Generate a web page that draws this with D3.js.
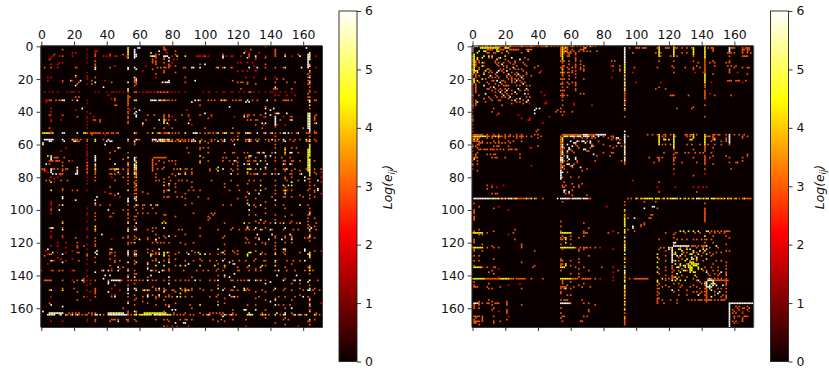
<!DOCTYPE html>
<html>
<head>
<meta charset="utf-8">
<script src="https://cdn.jsdelivr.net/npm/d3@7"></script>
<style>
  html, body { margin: 0; padding: 0; background: #fff; }
  svg text { font-family: "DejaVu Sans", sans-serif; fill: #111; }
</style>
</head>
<body>
<div id="chart"></div>
<script>
const matrixSize = 172;
const matrixTicks = [0, 20, 40, 60, 80, 100, 120, 140, 160];
const colorTicks = [0, 1, 2, 3, 4, 5, 6];

// every entry is [node, value, [other nodes]], the matrices are symmetric
const leftHubs = [
  [6, 6, [57, 75, 111, 149, 158, 164]],
  [6, 4.5, [53, 67, 83, 88]],
  [6, 3, [13, 33, 70, 100, 127, 137, 143]],
  [6, 2, [38, 42, 46, 80, 95, 97, 102, 113, 117, 122, 131, 168]],
  [5, 3, [33, 53, 111, 127, 143, 149]],
  [13, 6, [33, 53, 57, 93, 112, 127, 132]],
  [13, 4.5, [108, 149]],
  [13, 3, [71, 78, 88, 137, 143]],
  [13, 2, [22, 117, 163, 168]],
  [28, 1.4, [2, 5, 7, 10, 16, 18, 19, 20, 23, 33, 35, 40, 43, 44, 46, 48, 50, 60, 62, 64, 65, 66, 67, 69, 72, 74, 76, 78, 80, 82, 84, 88, 99, 102, 103, 107, 111, 112, 116, 117, 121, 124, 130, 133, 137, 140, 141, 143, 146, 149, 153, 167, 168]],
  [28, 3, [53, 57, 71, 73, 75, 77, 127, 128, 164]],
  [33, 6, [14, 22, 57, 67, 68, 69, 70, 72, 75, 94, 96, 126, 138, 164]],
  [33, 4.5, [58, 73, 110, 112]],
  [33, 3, [3, 4, 6, 9, 11, 12, 19, 45, 53, 74, 76, 77, 78, 80, 82, 97, 102, 104, 106, 111, 113, 117, 119, 121, 122, 129, 132, 143, 148, 149, 150, 151, 153, 167, 168]],
  [53, 6, [14, 22, 57, 78, 93, 94, 95, 108, 112, 126, 127, 132, 137, 141, 148, 149, 151, 157, 164]],
  [53, 4.5, [1, 2, 3, 4, 5, 7, 26, 27, 68, 72, 88, 113, 125]],
  [53, 3, [6, 28, 30, 31, 32, 34, 35, 36, 38, 40, 41, 43, 44, 46, 47, 65, 71, 73, 75, 76, 77, 80, 82, 84, 97, 100, 102, 103, 105, 107, 111, 116, 117, 120, 121, 128, 136, 140, 143, 146, 153, 156, 162, 167, 168]],
  [58, 6, [5, 6, 14, 20, 21, 40, 42, 43, 57, 71, 75, 92, 94, 108, 112, 127, 149, 164]],
  [58, 4.5, [33, 73, 74, 78, 80, 85, 97, 132]],
  [58, 3, [22, 23, 28, 53, 68, 70, 72, 76, 77, 79, 82, 84, 87, 88, 90, 93, 100, 104, 111, 117, 125, 128, 139, 143, 148, 154, 162, 168]],
  [57, 6, [2, 3, 4, 5, 7, 41, 68, 69, 70, 72, 73, 74, 78, 93, 112, 127, 141, 148, 162]],
  [57, 4.5, [19, 33, 75, 77, 120, 164]],
  [57, 3, [20, 21, 22, 24, 38, 59, 60, 76, 80, 83, 84, 86, 88, 90, 92, 98, 104, 106, 110, 116, 118, 125, 126, 128, 131, 133, 137, 139, 143, 145, 152, 155, 158, 167]],
  [164, 6, [4, 5, 8, 12, 19, 22, 33, 34, 41, 42, 43, 44, 45, 46, 47, 48, 49, 50, 51, 52, 64, 69, 70, 72, 73, 75, 77, 102, 112, 116, 128, 143, 149, 155, 158]],
  [164, 4.5, [6, 7, 15, 36, 60, 61, 62, 63, 65, 66, 67, 71, 74, 76, 78, 79, 126, 127, 129, 137, 148, 162, 167, 57, 135]],
  [164, 3, [16, 18, 21, 23, 25, 27, 53, 55, 81, 83, 85, 87, 91, 93, 99, 101, 103, 110, 113, 115, 117, 119, 134, 136, 139, 146, 154, 157, 159, 161, 168, 170, 11, 31, 38]],
  [163, 6, [5, 6, 7, 8, 9, 10, 11, 12, 13, 42, 44, 46, 48, 50, 149]],
  [163, 4.5, [41, 43, 45, 47, 49, 63, 64, 65, 66, 67, 68, 69, 70, 71, 72, 73, 74, 75, 76, 127, 144]],
  [163, 3, [17, 19, 21, 23, 29, 31, 33, 53, 58, 81, 88, 97, 103, 105, 107, 109, 111, 117, 135, 153, 168]]
];

const leftScatter = [
  [1, 6, [59, 162]], [2, 3, [75, 76, 143, 128]], [3, 2, [33, 34, 76, 125]], [4, 6, [124]], [4, 2, [19, 21, 33, 77, 127, 133]],
  [5, 3, [8, 42, 50, 70, 72, 111, 127, 143, 157]], [6, 6, [68, 69, 76, 77, 131]], [6, 2, [7, 11, 19, 40, 45, 52, 96, 99, 102, 116, 137, 153]],
  [8, 2, [75, 81, 83, 131]], [10, 2, [11, 13, 68, 80, 120, 122, 126, 129]], [12, 2, [45, 64, 79, 130]],
  [13, 6, [92, 97, 159]], [13, 3, [2, 21, 42, 73, 75, 76, 87, 107, 111, 116, 148]],
  [15, 2, [62, 120, 123, 126, 131]], [18, 4.5, [21]], [19, 2, [21, 70, 125, 130, 137, 143]],
  [20, 3, [137, 144, 148]], [21, 6, [24, 94]], [22, 6, [74, 76, 77, 143]], [22, 3, [23, 43, 88, 122, 123, 150, 155]],
  [25, 6, [38, 143]], [26, 3, [122, 142, 144, 143, 153]], [30, 2, [41, 143, 145, 150, 155]], [31, 3, [21, 23, 54]],
  [34, 6, [92, 125, 127]], [36, 3, [45, 46]], [38, 6, [142, 137]], [39, 2, [21, 54, 89]], [41, 6, [143, 144, 145, 100, 150]],
  [42, 3, [69, 75, 78, 86, 90, 104, 124, 126, 127, 130, 134, 140, 168]], [43, 2, [32, 80, 90, 104, 118, 136, 143, 148, 152]],
  [45, 3, [32, 64, 75, 76, 91, 126, 128, 132, 143, 146, 152]], [47, 6, [62, 77, 137, 135, 143, 168]], [48, 2, [78, 92, 136, 144, 149]],
  [50, 3, [69, 75, 80, 100, 117, 135, 160]], [60, 6, [1, 39, 118, 143]], [62, 3, [48, 89, 97, 99, 143, 149, 153, 156]],
  [65, 6, [133, 136, 143, 152]], [65, 3, [42, 90, 112, 118, 124, 132, 135, 141, 157]], [67, 4.5, [4, 97, 127, 128]],
  [68, 3, [8, 9, 10, 14, 69, 70, 71, 72, 73, 74, 75, 76, 99, 111, 113, 120, 125, 127, 137, 143, 147, 152]],
  [70, 3, [5, 7, 9, 10, 11, 17, 72, 78, 80, 97, 111, 115, 119, 127, 130, 134, 137, 143, 148, 154, 158]],
  [72, 6, [3, 45, 127, 132, 138, 148, 152]], [75, 4.5, [45, 46, 47, 127, 128, 134, 150]],
  [75, 3, [0, 1, 7, 8, 10, 15, 16, 22, 43, 44, 71, 74, 81, 83, 88, 89, 92, 103, 107, 111, 116, 120, 126, 131, 137, 143, 148, 155, 162, 167, 171]],
  [78, 6, [7, 9, 21, 22, 84, 88, 116, 132, 141, 145, 159]], [78, 3, [11, 12, 43, 45, 80, 85, 120, 128, 130, 136, 143, 152, 158, 168]],
  [82, 3, [3, 5, 12, 16, 45, 70, 72, 79, 84, 86, 89, 104, 116, 127, 130, 134, 143, 150, 157]], [85, 4.5, [75, 148, 151, 153, 134]],
  [88, 3, [19, 77, 90, 93, 97, 115, 121, 131, 143, 148, 150, 167]], [90, 6, [47, 127, 133]], [92, 3, [77, 78, 83, 86, 96, 125, 141, 148, 160]],
  [97, 4.5, [71, 134, 127, 158]], [97, 3, [11, 36, 42, 59, 62, 63, 111, 116, 130, 143, 148]], [100, 6, [11, 127]], [102, 3, [44, 59, 62, 65, 70, 93, 104, 106]],
  [103, 3, [75, 76, 105, 127, 131, 143, 153]], [108, 4.5, [74, 76, 124, 148, 158]], [108, 3, [127, 133, 136, 140, 146, 152, 156, 168]],
  [111, 6, [7, 75, 126, 131, 149, 165]], [112, 3, [84, 86, 108, 116, 121, 125, 127, 130, 135, 141, 148, 154, 157, 168]], [115, 6, [37, 132, 141, 152]],
  [117, 3, [21, 65, 72, 76, 111, 125, 133, 143, 149, 153, 161, 167]], [118, 6, [70, 133, 139, 147, 153]], [120, 3, [22, 55, 71, 73, 85, 93, 125, 127, 135, 137, 143]],
  [124, 6, [43, 72, 148, 161]], [126, 4.5, [7, 96, 127, 128, 77, 75]], [126, 3, [22, 23, 42, 43, 65, 70, 72, 78, 84, 89, 94, 110, 118, 135, 143, 148, 158]],
  [131, 3, [7, 23, 45, 48, 68, 70, 75, 78, 93, 98, 107, 117, 121, 125, 130, 136, 143, 150, 154, 161]], [134, 4.5, [70, 88, 106, 112, 127, 135, 143]],
  [137, 6, [41, 67, 74, 145, 150]], [137, 3, [0, 7, 11, 20, 37, 43, 70, 75, 78, 87, 95, 99, 102, 107, 111, 121, 127, 131, 134, 143, 150, 155, 161, 166]],
  [140, 6, [39, 42, 67, 112, 144, 156]], [143, 6, [43, 44, 45, 46, 47, 48, 94, 108, 127, 131, 148, 158, 155]], [143, 3, [3, 4, 22, 41, 49, 55, 60, 85, 90, 106, 116, 122, 124, 132, 137, 154, 169]],
  [149, 4.5, [63, 65, 90, 124, 135, 88]], [149, 3, [64, 66, 70, 72, 75, 76, 80, 81, 86, 89, 92, 99, 104, 116, 120, 125, 127, 135, 142, 148, 153, 160, 166, 170]],
  [153, 6, [45, 65, 80, 83, 133, 160]], [153, 3, [43, 70, 72, 76, 78, 80, 88, 92, 107, 116, 120, 133, 145, 155]], [158, 3, [76, 78, 91, 131, 145, 148, 152]],
  [161, 6, [80, 82, 125, 131]], [167, 3, [43, 44, 45, 47, 52, 70, 75, 77, 85, 89, 92, 105, 110, 117, 125, 148, 151, 167]], [169, 6, [88, 82, 87]], [171, 2, [77, 80, 83, 90, 125, 157]]
];

const rightHubs = [
  [0, 6, [1, 2, 3, 6, 9, 14, 17, 20, 23, 30, 36, 45, 55, 61, 72]],
  [0, 3, [4, 5, 7, 8, 10, 11, 12, 13, 15, 16, 18, 19, 21, 22, 24, 25, 26, 27, 28, 29, 31, 32, 33, 34, 35, 37, 38, 40, 42, 43, 44, 46, 48, 50, 52, 54, 56, 57, 58, 60, 62, 64, 66, 68, 70, 73, 75]],
  [1, 4.5, [5, 6, 7, 8, 9, 10, 11, 12, 13, 14, 15, 16, 20, 21, 22, 55, 56, 57, 68, 69, 123, 142]],
  [2, 3, [9, 10, 11, 12, 17, 18, 19, 23, 24, 25, 26, 27, 28, 33, 34, 35, 36, 54, 58, 66, 67, 114, 123, 135, 142, 157, 166, 168, 169]],
  [3, 4.5, [4, 7, 8, 15, 16, 21, 34, 55, 56, 57, 114, 142]],
  [4, 3, [9, 10, 13, 14, 18, 22, 30, 55, 56, 58, 60, 114, 123, 135, 142, 156, 165, 168]],
  [6, 4.5, [7, 10, 12, 20]], [8, 4.5, [0, 15]], [11, 4.5, [0, 1]], [15, 4.5, [0, 1, 2]],
  [54, 6, [68, 69, 70, 76, 77, 78, 79, 80, 81, 93]],
  [54, 3, [0, 1, 2, 3, 4, 5, 6, 9, 13, 16, 20, 23, 27, 30, 38, 40, 55, 56, 57, 58, 59, 60, 61, 62, 63, 64, 65, 66, 67, 71, 72, 73, 74, 75, 107, 110, 114, 117, 121, 123, 131, 133, 135, 142, 148, 151, 157, 166]],
  [55, 4.5, [0, 1, 2, 3, 4, 5, 6, 7, 8, 14, 16, 56, 57, 58, 64, 68, 71, 114, 123, 135, 142]],
  [55, 6, [60, 61, 62, 65, 66, 69, 70, 74, 77, 93, 157]],
  [55, 3, [9, 10, 12, 13, 15, 17, 18, 20, 22, 23, 25, 27, 29, 30, 31, 33, 36, 42, 59, 63, 73, 80, 85, 95, 116, 118, 124, 131, 133, 143, 144, 145]],
  [56, 3, [0, 1, 2, 3, 4, 9, 12, 16, 20, 27, 30, 40, 62, 67, 70, 73, 75, 83, 86, 88, 114, 117, 123, 135, 142, 148, 157, 165]],
  [58, 6, [60, 64, 67, 68, 72, 93, 123]], [58, 3, [1, 3, 6, 13, 16, 22, 25, 30, 65, 70, 77, 142, 146, 152]],
  [93, 6, [1, 2, 3, 4, 5, 6, 7, 8, 9, 55, 56, 57, 58, 59, 61, 62, 65, 66, 69, 70, 10, 13, 16, 18, 20, 22, 24, 26, 33, 36, 52, 54, 64, 68, 117, 123, 127, 138, 143, 147, 156, 137]],
  [93, 4.5, [11, 12, 14, 15, 23, 27, 38, 63, 100, 103, 105, 106, 107, 108, 109, 110, 112, 113, 114, 119, 121, 122, 124, 125, 130, 132, 135, 139, 141, 144, 146, 148, 150, 152, 154, 158, 161, 166, 168]],
  [93, 3, [17, 19, 21, 25, 28, 29, 30, 31, 32, 34, 35, 39, 43, 60, 67, 71, 72, 95, 97, 101, 104, 116, 120, 129, 134, 140, 142, 149, 151, 153, 160, 163, 165, 167, 169, 170]],
  [142, 4.5, [0, 1, 2, 3, 4, 5, 6, 7, 17, 18, 19, 20, 21, 22, 54, 55, 56, 57, 58, 59, 60, 116, 125, 135, 145]],
  [142, 3, [8, 9, 10, 11, 12, 13, 14, 15, 16, 23, 24, 25, 27, 28, 29, 30, 31, 32, 36, 43, 61, 62, 63, 64, 67, 68, 69, 70, 71, 72, 93, 96, 99, 100, 101, 102, 103, 104, 105, 106, 107, 118, 120, 122, 144, 146, 148, 150, 152, 155]],
  [123, 4.5, [0, 1, 2, 3, 4, 5, 6, 54, 55, 56, 57, 58, 59, 60, 61, 62]],
  [123, 3, [9, 13, 16, 30, 63, 66, 68, 69, 70, 72, 115, 117, 121, 127, 131, 137, 141, 145, 150]],
  [114, 4.5, [0, 1, 2, 3, 4, 5, 6, 54, 55, 56, 57, 58, 59, 60]],
  [114, 3, [9, 25, 68, 69, 70, 83, 118, 124, 130, 136, 139, 145, 148, 151, 154]],
  [135, 4.5, [1, 2, 3, 4, 5, 54, 55, 56, 126, 130, 134, 138]],
  [135, 3, [9, 14, 37, 63, 68, 79, 118, 122, 142, 146, 150]],
  [157, 6, [1, 2, 3, 54, 55, 56, 57, 58, 59, 60, 158, 159, 160, 161, 162, 163, 164, 165, 166, 167, 168, 169, 170, 171, 157]],
  [157, 3, [4, 9, 14, 15, 16, 68, 71, 93, 113, 117, 125]],
  [147, 6, [143, 144, 145, 146]],
  [147, 3, [1, 2, 3, 9, 17, 54, 55, 56, 57, 62, 67, 72, 116, 120, 127, 133]],
  [155, 3, [54, 56, 57, 58, 67, 113, 116, 121, 125, 132, 134, 136, 138, 140, 143, 144, 145, 146, 148, 150, 152, 153, 154]],
  [165, 3, [1, 2, 3, 4, 13, 55, 68, 70, 93, 160, 163]], [168, 3, [1, 2, 3, 4, 6, 13, 17, 55, 66, 67, 93, 159, 165]]
];

const rightScatter = [
  // block 0-40
  [7, 6, [17, 24]], [7, 3, [12, 16, 32, 10]], [8, 6, [29]], [8, 3, [20, 34]], [9, 3, [14, 22, 26]], [10, 3, [14, 16, 19, 23, 26, 31]], [11, 6, [18]], [11, 3, [15, 25, 32]],
  [12, 3, [16, 19, 21, 27, 33, 40]], [13, 6, [25]], [13, 3, [21, 38]], [14, 3, [17, 19, 23, 26, 28, 30]], [15, 6, [16, 21]], [15, 3, [18, 31]], [16, 3, [19, 24, 27, 33, 41]],
  [17, 6, [22, 28]], [17, 3, [26, 33]], [18, 3, [21, 23, 27, 29, 31, 36]], [19, 6, [30]], [19, 3, [21, 24]], [20, 3, [22, 24, 26, 28, 31]], [21, 6, [27]], [21, 3, [24, 29]],
  [22, 3, [24, 26, 30, 32]], [23, 6, [31]], [24, 3, [27, 29, 33, 35]], [26, 6, [28, 33]], [27, 3, [29, 32, 34]], [29, 6, [32]], [29, 3, [34]],
  [31, 3, [33, 35]], [33, 6, [34]], [38, 6, [39]], [41, 6, [38]], [34, 2, [45]], [35, 2, [35, 45]], [47, 2, [43]], [52, 3, [39]], [42, 2, [15, 28]],
  // block 54-92
  [59, 6, [62, 63, 69, 72]], [60, 3, [63, 73, 80]], [61, 6, [61, 73]], [61, 3, [64, 74, 84, 88, 91]], [62, 3, [65, 72]], [63, 6, [68]], [64, 3, [70, 71]],
  [65, 3, [80, 85]], [66, 6, [74]], [67, 3, [76, 84]], [69, 6, [63]], [70, 3, [75, 91]],
  [56, 6, [89, 88]], [57, 3, [85, 88, 90]], [86, 3, [55, 56, 62, 65]], [90, 3, [12, 15, 14, 59]], [89, 6, [59]], [85, 2, [9, 12]],
  // cross block 0-40 x 54-92
  [63, 3, [4, 5, 7, 8, 9, 11, 12, 13, 15, 17, 19, 22, 23, 24, 26, 27]], [59, 3, [4, 5, 6, 9, 11, 14, 16, 18, 20, 23]], [66, 3, [9, 11, 13, 14, 29]],
  [68, 3, [1, 2, 12, 14, 15, 20, 29]], [3, 3, [60, 62, 65, 68, 70, 72, 76]], [9, 3, [85, 87]], [12, 3, [86]], [15, 2, [86]], [19, 2, [85]],
  [61, 3, [2, 13, 15, 16, 22, 40]], [73, 2, [36]], [44, 2, [35, 30]], [51, 3, [40]], [62, 2, [36, 35]],
  // top right and cross blocks
  [1, 3, [96, 100, 101, 102, 104, 105, 106, 113, 118, 119, 120, 124, 125, 128, 131, 134, 144, 146, 147, 158, 159, 160, 165, 167, 168, 169]],
  [4, 3, [98, 112, 115, 128, 131, 158, 160, 170]], [6, 3, [115, 121, 125, 135, 157, 165, 166, 167]], [10, 3, [138, 145, 148, 155, 157]],
  [12, 3, [122, 137, 148, 156, 158, 161]], [13, 3, [99, 113, 130, 135, 139, 160, 165, 169]], [16, 2, [98, 136, 141, 162]], [21, 3, [156, 157, 158, 161, 162, 163, 167]],
  [22, 2, [100, 115, 146, 165]], [26, 3, [112, 118]], [30, 3, [121, 122, 132, 148, 158]], [38, 3, [125, 134]], [54, 3, [113, 118, 130, 134, 137, 150, 160, 163]],
  [57, 4.5, [133, 134, 117, 118, 120, 148]], [60, 3, [116, 118, 121, 131, 134, 139, 144, 148, 152, 157]], [65, 3, [117, 124, 125, 130, 132, 136, 139, 141, 146]], [68, 3, [108, 113, 116, 124, 145]],
  [71, 3, [111, 128, 137, 161, 162]], [75, 3, [123, 142, 158]], [78, 2, [123, 142]], [82, 2, [98]], [86, 2, [113, 124, 135, 138, 141, 143]], [89, 3, [114, 137]],
  [29, 2, [145]],
  // nodes 95-115
  [98, 6, [110, 111]], [99, 6, [105]], [99, 3, [113]], [103, 3, [109, 110]], [105, 3, [108, 109]], [95, 3, [105, 112]],
  // block 115-157
  [113, 4.5, [127, 129, 132, 135, 138, 143, 144]], [113, 3, [146, 148, 150, 152, 154, 156]], [118, 3, [125, 128, 131, 137, 140, 143, 146]],
  [120, 6, [123, 124]], [122, 6, [123, 124, 125, 126, 127, 128, 129, 130, 131, 132, 143, 149]], [122, 3, [134, 136, 138, 140, 141]],
  [124, 4.5, [126, 127, 131, 133, 141, 143]], [125, 6, [128, 135, 139]],
  [126, 3, [129, 131, 137, 141, 145, 149, 152]], [127, 4.5, [128, 133, 134, 138, 143]], [128, 3, [130, 136, 140, 146]], [129, 6, [134, 137]],
  [130, 4.5, [131, 134, 137, 143]], [131, 3, [133, 137, 141, 149, 152]], [132, 4.5, [133, 134, 135]], [133, 4.5, [134, 135, 136, 137, 138]], [134, 4.5, [136, 137]],
  [136, 4.5, [138, 140]], [137, 3, [141, 143, 147, 150]], [138, 6, [143, 152]], [139, 3, [144, 148, 151, 155]], [140, 3, [145, 150]],
  [143, 6, [144, 145, 146]], [143, 3, [148, 149, 150, 151, 152, 153, 154, 155, 156]], [145, 4.5, [146, 148]], [146, 6, [149, 153]], [148, 3, [150, 152]], [150, 6, [151]], [152, 3, [153]],
  // corner 157-171
  [160, 3, [162, 166, 169]], [161, 3, [163, 168]], [162, 2, [165, 169]], [159, 3, [161, 163]], [165, 3, [166, 167]]
];

const margin = { top: 45.5, bottom: 327 };
const panels = [
  { left: 40.5, cbLeft: 339, hubs: leftHubs, scatter: leftScatter },
  { left: 471.7, cbLeft: 770.5, hubs: rightHubs, scatter: rightScatter }
];
const plotSize = 281.5;
const fontSize = '12.4px';

const hot = d3.scaleLinear()
  .domain([0, 0.365, 0.746, 1].map(d => d * 6))
  .range(['#0b0000', '#ff0000', '#ffff00', '#ffffff'])
  .clamp(true);

const svg = d3.select('#chart')
  .append('svg')
  .attr('width', 829)
  .attr('height', 374)
  .style('display', 'block');

const blur = svg.append('defs').append('filter')
  .attr('id', 'soft')
  .attr('x', 0).attr('y', 0).attr('width', 1).attr('height', 1);
blur.append('feGaussianBlur').attr('stdDeviation', 0.3);

function cellsOf(panel) {
  const cells = new Map();
  panel.hubs.concat(panel.scatter).forEach(([node, value, others]) => {
    others.forEach(other => {
      if (other >= matrixSize) return;
      cells.set(node + '_' + other, { row: node, col: other, value });
      cells.set(other + '_' + node, { row: other, col: node, value });
    });
  });
  return Array.from(cells.values());
}

function styleAxis(g) {
  g.selectAll('text').style('font-size', fontSize);
  g.selectAll('path,line').attr('stroke', '#222').attr('stroke-width', 0.9);
}

panels.forEach(panel => {
  const x = d3.scaleLinear().domain([-0.5, matrixSize - 0.5]).range([panel.left, panel.left + plotSize]);
  const y = d3.scaleLinear().domain([-0.5, matrixSize - 0.5]).range([margin.top, margin.top + plotSize]);
  const cellSize = x(1) - x(0);
  const g = svg.append('g');

  g.append('rect')
    .attr('x', x(-0.5))
    .attr('y', y(-0.5))
    .attr('width', plotSize)
    .attr('height', plotSize)
    .attr('fill', hot(0));

  g.append('g')
    .attr('filter', 'url(#soft)')
    .selectAll('rect')
    .data(cellsOf(panel))
    .join('rect')
    .attr('x', d => x(d.col - 0.5))
    .attr('y', d => y(d.row - 0.5))
    .attr('width', cellSize)
    .attr('height', cellSize)
    .attr('fill', d => hot(d.value));

  g.append('g')
    .attr('transform', `translate(0,${margin.top})`)
    .call(d3.axisTop(x).tickValues(matrixTicks).tickFormat(d3.format('d')).tickSize(4).tickSizeOuter(0).tickPadding(3))
    .call(styleAxis);
  g.append('g')
    .attr('transform', `translate(0,${margin.top + plotSize})`)
    .call(d3.axisBottom(x).tickValues(matrixTicks).tickFormat('').tickSize(4).tickSizeOuter(0))
    .call(styleAxis);
  g.append('g')
    .attr('transform', `translate(${panel.left},0)`)
    .call(d3.axisLeft(y).tickValues(matrixTicks).tickFormat(d3.format('d')).tickSize(4).tickSizeOuter(0).tickPadding(3))
    .call(styleAxis);
  g.append('g')
    .attr('transform', `translate(${panel.left + plotSize},0)`)
    .call(d3.axisRight(y).tickValues([]).tickSize(0))
    .call(styleAxis);

  // colour bar
  const cbTop = 11;
  const cbBottom = 361.5;
  const cbWidth = 18;
  const c = d3.scaleLinear().domain([0, 6]).range([cbBottom, cbTop]);
  const gradId = 'hot' + panel.cbLeft;
  const grad = svg.append('defs').append('linearGradient')
    .attr('id', gradId)
    .attr('x1', 0).attr('x2', 0).attr('y1', 1).attr('y2', 0);
  grad.selectAll('stop')
    .data(hot.domain())
    .join('stop')
    .attr('offset', d => d / 6)
    .attr('stop-color', d => hot(d));

  g.append('rect')
    .attr('x', panel.cbLeft)
    .attr('y', cbTop)
    .attr('width', cbWidth)
    .attr('height', cbBottom - cbTop)
    .attr('fill', `url(#${gradId})`)
    .attr('stroke', '#222')
    .attr('stroke-width', 0.9);

  g.append('g')
    .attr('transform', `translate(${panel.cbLeft + cbWidth},0)`)
    .call(d3.axisRight(c).tickValues(colorTicks).tickFormat(d3.format('d')).tickSize(4).tickPadding(4))
    .call(styleAxis)
    .call(a => a.select('.domain').remove());

  const label = g.append('text')
    .attr('transform', `translate(${panel.cbLeft + cbWidth + 35},187) rotate(-90)`)
    .attr('text-anchor', 'middle')
    .style('font-size', fontSize)
    .style('font-style', 'italic');
  label.append('tspan').text('Log(e');
  label.append('tspan').attr('dy', 2.5).style('font-size', '8.6px').text('ij');
  label.append('tspan').attr('dy', -2.5).text(')');
});
</script>
</body>
</html>
